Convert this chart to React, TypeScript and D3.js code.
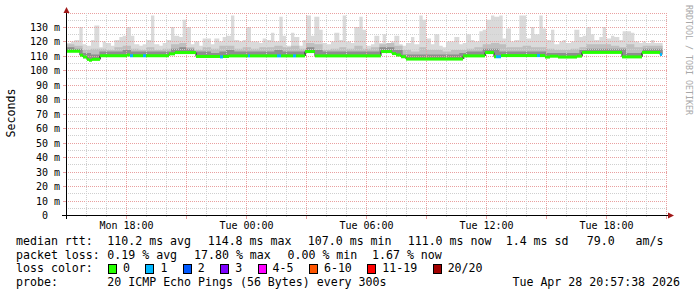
import React from "react";
import * as d3 from "d3";

// ---------- DATA ----------
const START = new Date(2026, 3, 27, 15, 0);
const END = new Date(2026, 3, 28, 21, 0);

// median rtt runs: [startHour, endHour (hours after START), ms, loss class]
const medianRuns: [number, number, number, number][] = [
  [0, 0.7, 113.2, 0], [0.7, 0.85, 110.5, 0], [0.85, 1.05, 109.2, 0], [1.05, 1.15, 107.6, 0],
  [1.15, 1.3, 107.0, 0], [1.3, 1.7, 107.6, 0], [1.7, 3.05, 110.1, 0], [3.05, 3.2, 110.6, 0],
  [3.2, 3.35, 110.1, 1], [3.35, 3.85, 110.1, 0], [3.85, 4.0, 110.1, 1], [4.0, 5.15, 110.1, 0],
  [5.15, 5.45, 111.4, 0], [5.45, 6.5, 112.3, 0], [6.5, 7.7, 109.6, 0], [7.7, 7.85, 109.3, 1],
  [7.85, 8.15, 109.6, 0], [8.15, 9.1, 110.0, 0], [9.1, 9.2, 110.0, 1], [9.2, 10.55, 110.0, 0],
  [10.55, 10.75, 110.0, 1], [10.75, 11.35, 110.0, 0], [11.35, 11.5, 110.0, 1], [11.5, 11.95, 110.0, 0],
  [11.95, 12.45, 113.0, 0], [12.45, 15.75, 110.0, 0], [15.75, 16.3, 113.0, 0], [16.3, 16.5, 111.6, 0],
  [16.5, 16.75, 110.6, 0], [16.75, 17.0, 109.4, 0], [17.0, 19.85, 107.8, 0], [19.85, 20.95, 110.0, 0],
  [20.95, 21.4, 112.3, 0], [21.4, 21.5, 109.4, 0], [21.5, 21.75, 109.4, 1], [21.75, 23.55, 110.2, 0],
  [23.55, 23.7, 110.2, 1], [23.7, 23.95, 110.2, 0], [23.95, 24.2, 109.2, 0], [24.2, 24.6, 109.8, 0],
  [24.6, 25.55, 109.2, 0], [25.55, 25.8, 109.8, 0], [25.8, 27.8, 112.4, 0], [27.8, 28.8, 109.3, 0],
  [28.8, 29.7, 112.4, 0], [29.7, 29.8, 111.0, 1],
];

// smoke: highest ping per 12-minute bin (ms)
const smokeMax = [
  119, 120, 121, 130, 118, 117, 121, 131, 116, 120,
  119, 117, 121, 123, 124, 130, 124, 118, 117, 118,
  121, 138, 118, 117, 119, 121, 130, 124, 123, 135,
  130, 118, 120, 117, 122, 122, 118, 122, 120, 123,
  124, 138, 121, 120, 121, 130, 120, 120, 119, 122,
  121, 126, 120, 137, 124, 117, 126, 123, 117, 121,
  138, 124, 137, 128, 119, 118, 120, 126, 121, 138,
  120, 119, 130, 137, 128, 117, 118, 124, 119, 125,
  119, 120, 124, 118, 117, 119, 123, 118, 138, 135,
  122, 118, 125, 117, 116, 120, 120, 123, 118, 119,
  125, 121, 120, 127, 128, 135, 138, 137, 138, 122,
  129, 120, 121, 138, 138, 122, 130, 125, 138, 129,
  121, 128, 118, 120, 121, 119, 120, 128, 123, 124,
  130, 125, 121, 123, 130, 122, 124, 123, 121, 127,
  127, 126, 120, 119, 120, 119, 121, 119, 119,
];
// smoke: upper pings per 24-minute bin (ms)
const smokeMid = [
  118, 117, 114, 115, 115, 114, 116, 117, 115, 114,
  116, 114, 115, 118, 119, 116, 114, 116, 115, 117,
  117, 115, 116, 115, 116, 116, 117, 116, 117, 115,
  119, 118, 114, 115, 116, 115, 117, 115, 116, 118,
  119, 117, 114, 113, 116, 114, 114, 113, 114, 114,
  115, 116, 118, 119, 118, 116, 116, 117, 116, 116,
  115, 114, 114, 115, 116, 118, 118, 118, 117, 116,
  118, 116, 117, 117, 117,
];
// smoke: pings close to the median per 24-minute bin (ms)
const smokeDark = [
  116, 115, 112, 111, 113, 113, 113, 114, 113, 113,
  113, 113, 113, 115, 116, 115, 113, 113, 112, 113,
  114, 113, 113, 113, 113, 113, 114, 113, 113, 113,
  116, 114, 113, 113, 113, 113, 113, 113, 113, 116,
  116, 114, 111, 111, 111, 111, 111, 111, 111, 112,
  113, 113, 115, 115, 113, 113, 113, 113, 113, 113,
  112, 112, 112, 112, 114, 115, 115, 115, 115, 115,
  112, 112, 115, 115, 115,
];

const yTickValues = [0, 10, 20, 30, 40, 50, 60, 70, 80, 90, 100, 110, 120, 130];
const yTickLabels = ["0", "10 m", "20 m", "30 m", "40 m", "50 m", "60 m", "70 m", "80 m", "90 m", "100 m", "110 m", "120 m", "130 m"];
const xTickHours = [3, 9, 15, 21, 27];
const xTickLabels = ["Mon 18:00", "Tue 00:00", "Tue 06:00", "Tue 12:00", "Tue 18:00"];

const rttItems = ["median rtt:", "110.2 ms avg", "114.8 ms max", "107.0 ms min", "111.0 ms now", "1.4 ms sd", "79.0   am/s"];
const lossItems = ["packet loss:", "0.19 % avg", "17.80 % max", "0.00 % min", "1.67 % now"];
const lossLabels = ["0", "1", "2", "3", "4-5", "6-10", "11-19", "20/20"];
const lossColors = ["#26ff00", "#00b8ff", "#0059ff", "#7e00ff", "#ff00ff", "#ff5500", "#ff0000", "#a10000"];
const probeText = "20 ICMP Echo Pings (56 Bytes) every 300s";
const dateText = "Tue Apr 28 20:57:38 2026";
const yTitle = "Seconds";
const watermark = "RRDTOOL / TOBI OETIKER";

// ---------- LAYOUT ----------
const MONO = "'DejaVu Sans Mono', monospace";
const rttX = [16, 107.3, 207.7, 307.8, 407.7, 505.7, 586.7];
const lossX = [16, 107.3, 194, 287.5, 372];
const CW = 6.99;

export default function App() {
  const x = d3.scaleTime().domain([START, END]).range([66, 666]);
  const y = d3.scaleLinear().domain([0, 140]).range([215, 12.5]);
  const hd = (h: number) => new Date(START.getTime() + h * 3600000);
  const px = (v: number) => Math.round(v) + 0.5;

  const dataEnd = medianRuns[medianRuns.length - 1][1];
  const stepH = 5 / 60;
  const nSteps = Math.round(dataEnd / stepH);
  const steps = d3.range(nSteps + 1).map((i) => i * stepH);
  const medianAt = (h: number) => {
    const r = medianRuns.find((r) => h >= r[0] - 1e-9 && h < r[1] - 1e-9);
    return r ? r[2] : medianRuns[medianRuns.length - 1][2];
  };
  const layer = (arr: number[], binH: number) =>
    d3
      .area<number>()
      .x((h) => x(hd(h)))
      .y0((h) => y(medianAt(h)))
      .y1((h) => {
        const v = arr[Math.min(arr.length - 1, Math.floor(h / binH + 1e-6))];
        return y(Math.max(v, medianAt(h)));
      })
      .curve(d3.curveStepAfter)(steps) || "";

  const medLine =
    d3
      .line<[number, number, number, number]>()
      .x((r) => x(hd(r[0])))
      .y((r) => y(r[2]))
      .curve(d3.curveStepAfter)([...medianRuns, [dataEnd, dataEnd, medianRuns[medianRuns.length - 1][2], 0]]) || "";

  const hourTicks = x.ticks(d3.timeHour.every(1)!);
  const majorV = x.ticks(d3.timeHour.every(3)!);
  const minorH = d3.range(0, 141, 5);

  let bx = 108;
  const boxes = lossLabels.map((l, i) => {
    const b = { x: bx, label: l, color: lossColors[i] };
    bx += 15 + l.length * CW + 15.4;
    return b;
  });

  return (
    <svg width={697} height={297} style={{ display: "block", position: "absolute", left: 0, top: 0 }} fontFamily={MONO}>
      <rect width={697} height={297} fill="#ffffff" />
      {/* smoke */}
      <path d={layer(smokeMax, 0.2)} fill="#dadada" />
      <path d={layer(smokeMid, 0.4)} fill="#bfbfbf" />
      <path d={layer(smokeDark, 0.4)} fill="#8e8e8e" />

      {/* grid */}
      <g shapeRendering="crispEdges" strokeWidth={1} strokeDasharray="1,1">
        {minorH.map((v) => (
          <line key={"h" + v} x1={66} x2={667} y1={px(y(v))} y2={px(y(v))} stroke={v % 10 === 0 ? "#e9a0a0" : "#cfcfcf"} />
        ))}
        {hourTicks.map((t) => {
          const major = majorV.some((m) => +m === +t);
          return <line key={"v" + +t} x1={px(x(t))} x2={px(x(t))} y1={13} y2={215} stroke={major ? "#e9a0a0" : "#cfcfcf"} />;
        })}
      </g>
      {/* ticks */}
      <g shapeRendering="crispEdges">
        {hourTicks.map((t) => {
          const major = majorV.some((m) => +m === +t);
          return <line key={"t" + +t} x1={px(x(t))} x2={px(x(t))} y1={215} y2={major ? 219 : 217} stroke={major ? "#e9a0a0" : "#cfcfcf"} />;
        })}
        {yTickValues.map((v) => (
          <line key={"yt" + v} x1={63} x2={66} y1={px(y(v))} y2={px(y(v))} stroke="#e9a0a0" />
        ))}
      </g>

      {/* median */}
      <path d={medLine} fill="none" stroke="#1a1a1a" strokeWidth={1} />
      {medianRuns.map((r, i) => (
        <rect key={"m" + i} x={x(hd(r[0]))} width={x(hd(r[1])) - x(hd(r[0]))} y={y(r[2]) - 1.5} height={3} fill={lossColors[r[3]]} />
      ))}

      {/* axes */}
      <g shapeRendering="crispEdges" stroke="#000">
        <line x1={62} x2={669} y1={215.5} y2={215.5} />
        <line x1={66.5} x2={66.5} y1={219} y2={10} />
      </g>
      <polygon points="668,212.5 674,215.5 668,218.5" fill="#a01818" />
      <polygon points="63.5,13 66.5,7 69.5,13" fill="#a01818" />

      {/* y labels */}
      <g fontSize={10} fill="#000" textAnchor="end">
        {yTickValues.map((v, i) => (
          <text key={"yl" + v} x={yTickLabels[i].includes(" ") ? 60 : 48} y={px(y(v)) + 3.5}>
            {yTickLabels[i]}
          </text>
        ))}
      </g>
      {/* x labels */}
      <g fontSize={10} fill="#000" textAnchor="middle">
        {xTickHours.map((h, i) => (
          <text key={"xl" + h} x={px(x(hd(h)))} y={228.5}>
            {xTickLabels[i]}
          </text>
        ))}
      </g>

      <text transform="translate(15,113) rotate(-90)" fontSize={11.6} textAnchor="middle" fill="#000">
        {yTitle}
      </text>
      <text transform="translate(685.5,60) rotate(90)" fontSize={8.3} textAnchor="middle" fill="#a8a8a8">
        {watermark}
      </text>

      {/* legend */}
      <g fontSize={11.6} fill="#000" style={{ whiteSpace: "pre" }}>
        {rttItems.map((t, i) => (
          <text key={"r" + i} x={rttX[i]} y={245} xmlSpace="preserve">
            {t}
          </text>
        ))}
        {lossItems.map((t, i) => (
          <text key={"l" + i} x={lossX[i]} y={258.7} xmlSpace="preserve">
            {t}
          </text>
        ))}
        <text x={16} y={272.4}>loss color:</text>
        {boxes.map((b) => (
          <g key={"b" + b.label}>
            <rect x={b.x + 0.5} y={264.5} width={8} height={9} fill={b.color} stroke="#000" strokeWidth={1} shapeRendering="crispEdges" />
            <text x={b.x + 15} y={272.4}>
              {b.label}
            </text>
          </g>
        ))}
        <text x={16} y={286}>probe:</text>
        <text x={107.3} y={286}>{probeText}</text>
        <text x={680} y={286} textAnchor="end">
          {dateText}
        </text>
      </g>
    </svg>
  );
}
